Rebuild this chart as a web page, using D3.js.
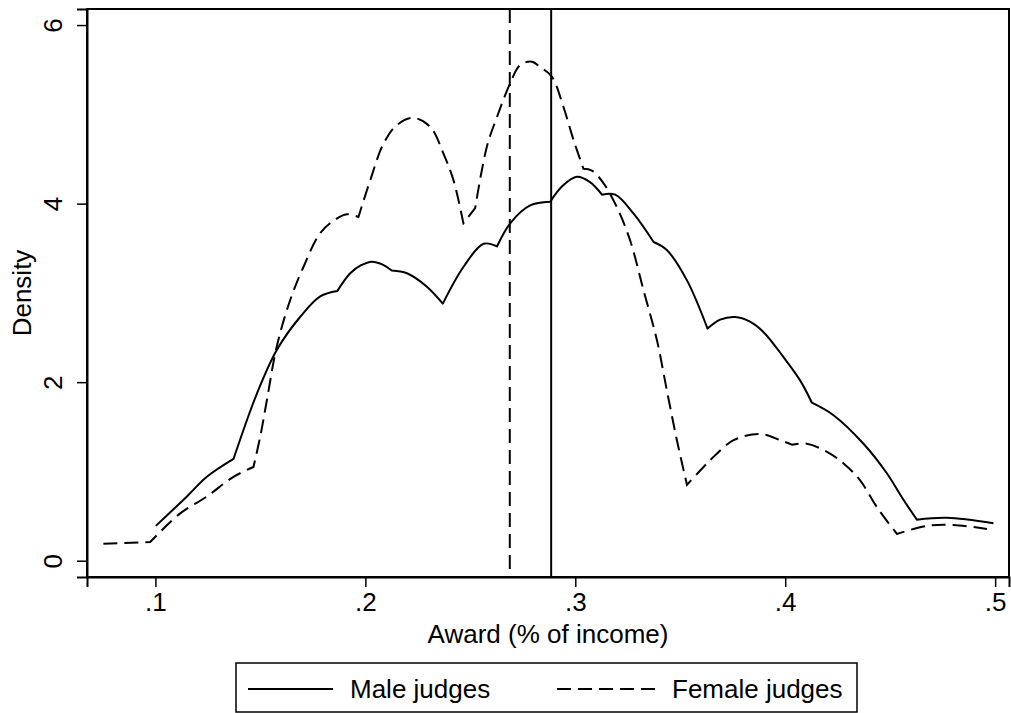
<!DOCTYPE html>
<html>
<head>
<meta charset="utf-8">
<script src="https://cdn.jsdelivr.net/npm/d3@7"></script>
<style>
    body { margin: 0; background: #fff; }
    svg text { font-family: "Liberation Sans", Arial, Helvetica, sans-serif; fill: #000; }
</style>
</head>
<body>
<script>
(function(){

    // award share of income (x) and kernel density (y)
    var maleX = [0.1002, 0.1150, 0.1245, 0.1372, 0.1483, 0.1578, 0.1689, 0.1785, 0.1866,
                 0.1928, 0.1980, 0.2031, 0.2080, 0.2126, 0.2198, 0.2293, 0.2369, 0.2467,
                 0.2563, 0.2627, 0.2690, 0.2785, 0.2880, 0.2940, 0.3008, 0.3070, 0.3127,
                 0.3190, 0.3277, 0.3373, 0.3436, 0.3532, 0.3630, 0.3690, 0.3762, 0.3830,
                 0.3897, 0.3992, 0.4071, 0.4127, 0.4230, 0.4373, 0.4484, 0.4564, 0.4627,
                 0.4770, 0.4992];
    var maleY = [0.39, 0.72, 0.94, 1.14, 1.87, 2.36, 2.73, 2.96, 3.02,
                 3.22, 3.31, 3.35, 3.32, 3.25, 3.22, 3.07, 2.88, 3.29,
                 3.55, 3.52, 3.78, 3.98, 4.02, 4.20, 4.30, 4.24, 4.10,
                 4.10, 3.89, 3.57, 3.48, 3.14, 2.60, 2.70, 2.73, 2.68,
                 2.56, 2.28, 2.02, 1.77, 1.63, 1.31, 0.98, 0.68, 0.46,
                 0.48, 0.42];
    // indices of the corners in the male curve
    var maleKinks = [3, 8, 13, 16, 19, 22, 26, 29, 32, 39, 44];

    var femaleX = [0.0752, 0.0975, 0.1118, 0.1245, 0.1372, 0.1467, 0.1500, 0.1531, 0.1578,
                   0.1642, 0.1705, 0.1785, 0.1856, 0.1912, 0.1967, 0.2023, 0.2086, 0.2150,
                   0.2229, 0.2309, 0.2372, 0.2420, 0.2467, 0.2523, 0.2579, 0.2627, 0.2690,
                   0.2737, 0.2793, 0.2833, 0.2889, 0.2944, 0.2992, 0.3039, 0.3079, 0.3134,
                   0.3198, 0.3261, 0.3325, 0.3389, 0.3436, 0.3484, 0.3532, 0.3611, 0.3666,
                   0.3754, 0.3881, 0.3976, 0.4032, 0.4103, 0.4199, 0.4278, 0.4357, 0.4437,
                   0.4532, 0.4675, 0.4802, 0.4961];
    var femaleY = [0.19, 0.21, 0.53, 0.72, 0.94, 1.05, 1.40, 1.80, 2.40,
                   2.92, 3.29, 3.67, 3.82, 3.88, 3.85, 4.26, 4.67, 4.88,
                   4.96, 4.86, 4.56, 4.26, 3.78, 3.95, 4.64, 4.97, 5.35,
                   5.55, 5.59, 5.53, 5.42, 5.08, 4.71, 4.39, 4.37, 4.23,
                   3.96, 3.59, 3.03, 2.47, 1.91, 1.35, 0.85, 1.05, 1.18,
                   1.35, 1.42, 1.35, 1.30, 1.31, 1.22, 1.09, 0.90, 0.60,
                   0.30, 0.39, 0.40, 0.355];
    var femaleKinks = [1, 5, 14, 22, 23, 33, 42, 48, 54];

    // vertical reference lines (female dashed, male solid)
    var femaleRef = 0.2688;
    var maleRef = 0.2885;

    var xTicks = [0.1, 0.2, 0.3, 0.4, 0.5];
    var xTickLabels = [".1", ".2", ".3", ".4", ".5"];
    var yTicks = [0, 2, 4, 6];
    var yTickLabels = ["0", "2", "4", "6"];

    var seriesNames = ["Male judges", "Female judges"];

    var width = 1011,
        height = 713,
        left = 87,
        right = 1009,
        top = 9,
        bottom = 577,
        fontSize = 26,
        dash = "14,7";

    var svg = d3.select("body")
        .append("svg")
        .attr("width", width)
        .attr("height", height);

    var x = d3.scaleLinear()
        .domain([0.0674, 0.5066])
        .range([left, right]);

    var y = d3.scaleLinear()
        .domain([-0.1825, 6.18])
        .range([bottom, top]);

    var line = d3.line()
        .x(function(d) { return x(d[0]); })
        .y(function(d) { return y(d[1]); })
        .curve(d3.curveCatmullRom.alpha(0.5));

    // smooth pieces joined at the corners
    function piecePath(xs, ys, kinks) {
        var pts = d3.zip(xs, ys);
        var cuts = [0].concat(kinks, [pts.length - 1]);
        var d = "";
        for (var i = 0; i < cuts.length - 1; i++) {
            var seg = line(pts.slice(cuts[i], cuts[i + 1] + 1));
            d += (i === 0) ? seg : seg.replace(/^M[^A-Za-z]*/, "");
        }
        return d;
    }

    // plot frame
    svg.append("rect")
        .attr("x", left)
        .attr("y", top)
        .attr("width", right - left)
        .attr("height", bottom - top)
        .style("fill", "none")
        .style("stroke", "#000")
        .style("stroke-width", 2);

    svg.append("path")
        .attr("d", piecePath(maleX, maleY, maleKinks))
        .style("fill", "none")
        .style("stroke", "#000")
        .style("stroke-width", 2)
        .style("stroke-linejoin", "round");

    svg.append("path")
        .attr("d", piecePath(femaleX, femaleY, femaleKinks))
        .style("fill", "none")
        .style("stroke", "#000")
        .style("stroke-width", 2)
        .style("stroke-dasharray", dash);

    svg.append("line")
        .attr("x1", x(femaleRef)).attr("x2", x(femaleRef))
        .attr("y1", top).attr("y2", bottom)
        .style("stroke", "#000")
        .style("stroke-width", 2)
        .style("stroke-dasharray", dash);

    svg.append("line")
        .attr("x1", x(maleRef)).attr("x2", x(maleRef))
        .attr("y1", top).attr("y2", bottom)
        .style("stroke", "#000")
        .style("stroke-width", 2);

    // axes
    var xAxis = d3.axisBottom(x)
        .tickValues(xTicks)
        .tickSize(10)
        .tickFormat(function(d, i) { return xTickLabels[i]; });

    var gx = svg.append("g")
        .attr("transform", "translate(0," + bottom + ")")
        .call(xAxis);
    gx.select(".domain").style("stroke-width", 2);
    gx.selectAll(".tick line").style("stroke-width", 1.5);
    gx.selectAll(".tick text")
        .attr("y", 34)
        .attr("dy", null)
        .style("font-size", fontSize + "px")
        .style("font-family", null);

    var yAxis = d3.axisLeft(y)
        .tickValues(yTicks)
        .tickSize(10)
        .tickFormat(function(d, i) { return yTickLabels[i]; });

    var gy = svg.append("g")
        .attr("transform", "translate(" + left + ",0)")
        .call(yAxis);
    gy.select(".domain").style("stroke-width", 2);
    gy.selectAll(".tick line").style("stroke-width", 1.5);
    gy.selectAll(".tick text")
        .attr("x", null)
        .attr("dy", null)
        .attr("transform", "translate(-25,0) rotate(-90)")
        .attr("text-anchor", "middle")
        .style("font-size", fontSize + "px")
        .style("font-family", null);

    // axis titles
    svg.append("text")
        .attr("x", (left + right) / 2)
        .attr("y", 643)
        .attr("text-anchor", "middle")
        .style("font-size", fontSize + "px")
        .text("Award (% of income)");

    svg.append("text")
        .attr("transform", "translate(31," + ((top + bottom) / 2) + ") rotate(-90)")
        .attr("text-anchor", "middle")
        .style("font-size", fontSize + "px")
        .text("Density");

    // legend
    var legend = svg.append("g");

    legend.append("rect")
        .attr("x", 236)
        .attr("y", 663)
        .attr("width", 621)
        .attr("height", 49)
        .style("fill", "#fff")
        .style("stroke", "#000")
        .style("stroke-width", 1.5);

    var keys = [
        { name: seriesNames[0], x0: 248, x1: 333, tx: 350, dash: null },
        { name: seriesNames[1], x0: 557, x1: 657, tx: 672, dash: dash }
    ];

    keys.forEach(function(k) {
        legend.append("line")
            .attr("x1", k.x0).attr("x2", k.x1)
            .attr("y1", 689).attr("y2", 689)
            .style("stroke", "#000")
            .style("stroke-width", 2)
            .style("stroke-dasharray", k.dash);
        legend.append("text")
            .attr("x", k.tx)
            .attr("y", 698)
            .style("font-size", fontSize + "px")
            .text(k.name);
    });

})();
</script>
</body>
</html>
